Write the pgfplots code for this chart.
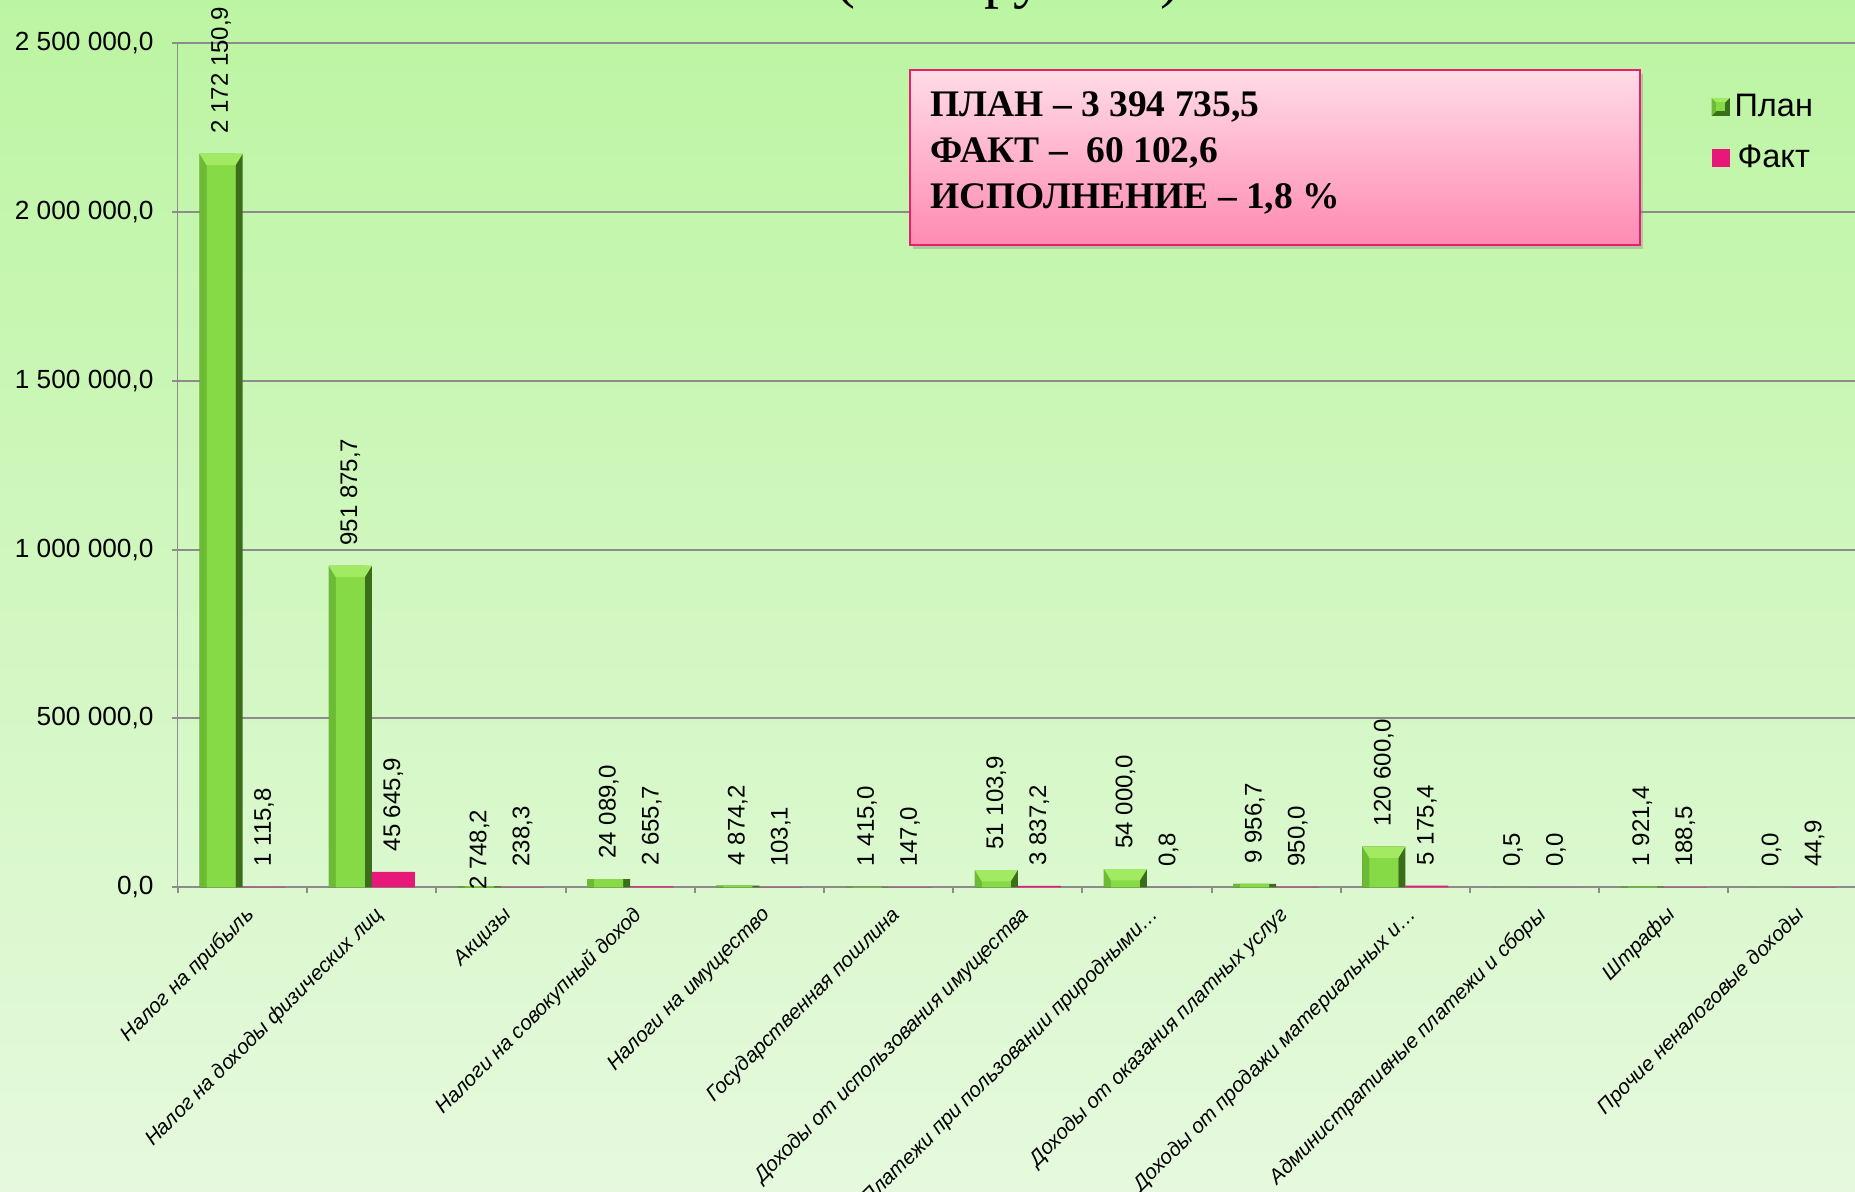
\documentclass[border=0pt]{standalone}
\usepackage{pgfplots}
\usepackage{pgfplotstable}
\pgfplotsset{compat=1.18}
\usepackage{fontspec}
\setmainfont{Liberation Sans}
\newfontfamily\timesfont{Liberation Serif}
\usetikzlibrary{shadows}
\definecolor{bgtop}{HTML}{BCF5A2}
\definecolor{bgbot}{HTML}{E6F9DE}
\definecolor{face}{HTML}{86DA45}
\definecolor{bevL}{HTML}{6DBA34}
\definecolor{bevR}{HTML}{3A6E1B}
\definecolor{bevT}{HTML}{A2EA62}
\definecolor{bevB}{HTML}{558F2A}
\definecolor{factc}{HTML}{E8177A}
\definecolor{gridc}{HTML}{8C8C8C}
\definecolor{boxtop}{HTML}{FFDCE7}
\definecolor{boxbot}{HTML}{FF8AB2}
\definecolor{boxborder}{HTML}{E5206F}
\pgfdeclareplotmark{bevtop}{%
  \pgfpathmoveto{\pgfpoint{-17.2pt}{0pt}}\pgfpathlineto{\pgfpoint{0pt}{0pt}}%
  \pgfpathlineto{\pgfpoint{-2.8pt}{-4.5pt}}\pgfpathlineto{\pgfpoint{-14.4pt}{-4.5pt}}%
  \pgfpathclose\pgfusepathqfill}
\pgfplotstableread{
x plan planlab fact factlab
0 2172150.9 {2 172 150,9} 1115.8 {1 115,8}
1 951875.7 {951 875,7} 45645.9 {45 645,9}
2 2748.2 {\hspace*{-9.6pt}2 748,2} 238.3 {238,3}
3 24089.0 {24 089,0} 2655.7 {2 655,7}
4 4874.2 {4 874,2} 103.1 {103,1}
5 1415.0 {1 415,0} 147.0 {147,0}
6 51103.9 {51 103,9} 3837.2 {3 837,2}
7 54000.0 {54 000,0} 0.8 {0,8}
8 9956.7 {9 956,7} 950.0 {950,0}
9 120600.0 {120 600,0} 5175.4 {5 175,4}
10 0.5 {0,5} 0.0 {0,0}
11 1921.4 {1 921,4} 188.5 {188,5}
12 0.0 {0,0} 44.9 {44,9}
}\datatable
\begin{document}
\begin{tikzpicture}
\path[use as bounding box] (-71.2pt,-121.9pt) rectangle (670.8pt,354.9pt);
\clip (-71.2pt,-121.9pt) rectangle (670.8pt,354.9pt);
\shade[top color=bgtop, bottom color=bgbot] (-71.2pt,-121.9pt) rectangle (670.8pt,354.9pt);
\node[font=\timesfont\fontsize{24}{28}\selectfont, anchor=base, inner sep=0pt] at (332pt,356.1pt) {(тыс. рублей)};
\begin{axis}[
  at={(0pt,0pt)}, anchor=south west, scale only axis,
  width=670.8pt, height=337.6pt,
  xmin=-0.5, xmax=12.48, ymin=0, ymax=2500000,
  ybar,
  axis x line*=bottom, axis y line*=left,
  x axis line style={gridc, line width=0.8pt},
  y axis line style={gridc, line width=0.4pt},
  ymajorgrids, grid style={gridc, line width=0.8pt},
  xtick={0,1,2,3,4,5,6,7,8,9,10,11,12},
  xticklabels={Налог на прибыль, Налог на доходы физических лиц, Акцизы, Налоги на совокупный доход, Налоги на имущество, Государственная пошлина, Доходы от использования имущества, Платежи при пользовании природными…, Доходы от оказания платных услуг, Доходы от продажи материальных и…, Административные платежи и сборы, Штрафы, Прочие неналоговые доходы},
  major x tick style={draw=none},
  minor xtick={-0.5,0.5,1.5,2.5,3.5,4.5,5.5,6.5,7.5,8.5,9.5,10.5,11.5},
  minor x tick style={gridc, line width=0.8pt},
  tick align=outside, major tick length=2.4pt, minor tick length=2.4pt,
  ytick={0,500000,1000000,1500000,2000000,2500000},
  yticklabels={{0,0},{500 000,0},{1 000 000,0},{1 500 000,0},{2 000 000,0},{2 500 000,0}},
  y tick style={gridc, line width=0.8pt},
  x tick label style={font=\itshape\fontsize{8.3}{10}\selectfont, yshift=-4.6pt, xshift=0.6pt, rotate=45, anchor=north east, inner sep=0pt},
  y tick label style={font=\fontsize{10.5}{12}\selectfont, anchor=east, inner sep=0pt, xshift=-7.2pt},
  scaled y ticks=false,
  clip=false,
  legend style={at={(0.9142,0.9466)}, anchor=north west, draw=none, fill=none, font=\fontsize{13}{15}\selectfont, row sep=6pt, inner sep=0pt},
  legend image code/.code={\path[#1, draw=none] (0pt,-3.6pt) rectangle (7.2pt,3.6pt);},
]
% plan bars: dark right edge, lighter left edge, face
\addplot[forget plot, fill=bevR, draw=none, bar width=17.2pt, bar shift=-8.6pt] table[x=x, y=plan] {\datatable};
\addplot[forget plot, fill=bevL, draw=none, bar width=14.4pt, bar shift=-10pt] table[x=x, y=plan] {\datatable};
\addplot[fill=face, draw=none, bar width=11.6pt, bar shift=-8.6pt,
  nodes near coords, point meta=explicit symbolic,
  every node near coord/.append style={rotate=90, anchor=west, font=\fontsize{9.6}{11}\selectfont, inner xsep=8pt, inner ysep=0pt, black},
  legend image code/.code={%
    \fill[bevR] (0pt,-3.6pt) rectangle (7.2pt,3.6pt);
    \fill[bevL] (0pt,-3.6pt) -- (0pt,3.6pt) -- (3.6pt,0pt) -- cycle;
    \fill[bevT] (0pt,3.6pt) -- (7.2pt,3.6pt) -- (3.6pt,0pt) -- cycle;
    \fill[face] (1.8pt,-1.8pt) rectangle (5.4pt,1.8pt);}
] table[x=x, y=plan, meta=planlab] {\datatable};
\addlegendentry{План}
% bevelled tops of the taller plan bars
\addplot[forget plot, sharp plot, only marks, mark=bevtop, mark options={fill=bevT, draw=none},
  restrict y to domain=40000:3000000] table[x=x, y=plan] {\datatable};
\addplot[fill=factc, draw=none, bar width=17.2pt, bar shift=8.6pt,
  nodes near coords, point meta=explicit symbolic,
  every node near coord/.append style={rotate=90, anchor=west, font=\fontsize{9.6}{11}\selectfont, inner xsep=8pt, inner ysep=0pt, black},
] table[x=x, y=fact, meta=factlab] {\datatable};
\addlegendentry{Факт}
\end{axis}
\draw[draw=boxborder, line width=0.8pt, top color=boxtop, bottom color=boxbot, drop shadow={shadow xshift=1.2pt, shadow yshift=-1.6pt, opacity=0.35}] (292.8pt,256.9pt) rectangle (584.8pt,326.9pt);
\node[font=\timesfont\bfseries\fontsize{15}{17}\selectfont, anchor=base west, inner sep=0pt] at (300.8pt,308.3pt) {ПЛАН – 3 394 735,5};
\node[font=\timesfont\bfseries\fontsize{15}{17}\selectfont, anchor=base west, inner sep=0pt] at (300.8pt,289.9pt) {ФАКТ –\ \ 60 102,6};
\node[font=\timesfont\bfseries\fontsize{15}{17}\selectfont, anchor=base west, inner sep=0pt] at (300.8pt,271.5pt) {ИСПОЛНЕНИЕ – 1,8 \%};
\end{tikzpicture}
\end{document}
